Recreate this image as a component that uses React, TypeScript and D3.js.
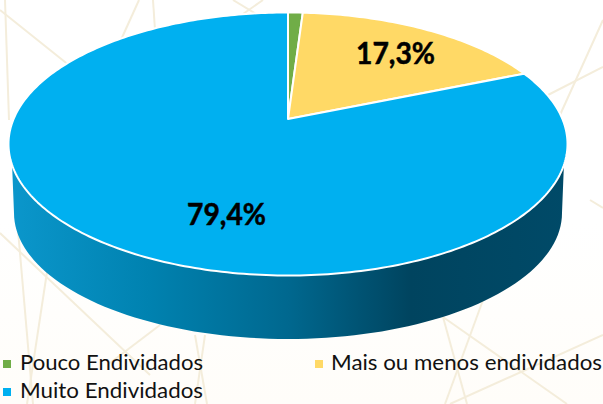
import React from "react";
import * as d3 from "d3";

const categories = ["Pouco Endividados", "Mais ou menos endividados", "Muito Endividados"];
const values = [1.0, 17.3, 79.4];
const colors = ["#70ad47", "#ffd966", "#00b0f0"];
const valueLabels = ["", "17,3%", "79,4%"];
const labelPositions: [number, number][] = [[0, 0], [395.5, 64], [226.5, 225]];
const legendPositions: [number, number, number][] = [[3, 370, 183], [314, 370, 271], [3, 398, 183]];
const backgroundLines: [number, number, number, number][] = [
  [0, 10, 70, 66], [5, 0, 9, 120], [139, 0, 120, 42], [153, 0, 155, 30],
  [233, 0, 256, 14], [263, 0, 243, 14], [603, 20, 560, 115], [603, 67, 546, 96],
  [0, 233, 150, 375], [15, 195, 33, 404], [47, 272, 27, 404], [160, 325, 110, 363],
  [195, 335, 207, 404], [205, 335, 195, 404], [443, 317, 467, 404], [483, 300, 445, 404],
  [443, 317, 567, 404], [603, 335, 450, 404], [590, 200, 603, 208],
];
const sideStops: [number, string][] = [
  [0, "#0b97cc"], [0.25, "#0082b0"], [0.5, "#00688f"], [0.72, "#00445f"], [1, "#004a68"],
];

const cx = 288, cy = 144, rx = 279.5, ry = 131.5;
const apexY = 119;
const rimY = 165, depthY = 213, rxBottom = 274, ryBottom = 126;

// Perspective: the apex sits above the ellipse centre, so true pie angles are warped
const k = (() => {
  const a = (cy - apexY) / ry;
  const p = (1 - Math.sqrt(1 - a * a)) / a;
  return (1 - p) / (1 + p);
})();
const warp = (t: number) => 2 * Math.atan(Math.tan(t / 2) * k);
const onRim = (t: number): [number, number] => {
  const w = warp(t);
  return [cx + rx * Math.sin(w), cy - ry * Math.cos(w)];
};

function slicePath(start: number, end: number) {
  const n = Math.max(4, Math.ceil((end - start) * 60));
  const p = d3.path();
  p.moveTo(cx, apexY);
  d3.range(n + 1).forEach((i) => {
    const [x, y] = onRim(start + ((end - start) * i) / n);
    p.lineTo(x, y);
  });
  p.closePath();
  return p.toString();
}

function sidePath() {
  const xScale = d3.scaleLinear().domain([-1, 1]).range([cx - rxBottom, cx + rxBottom]);
  const yScale = d3.scaleLinear().domain([0, 1]).range([depthY, depthY + ryBottom]);
  const topAt = Math.sqrt(1 - ((rimY - cy) / ry) ** 2) * rx;
  const pts: [number, number][] = [[cx - topAt, rimY]];
  d3.range(0, 181, 2).forEach((deg) => {
    const a = (deg * Math.PI) / 180;
    pts.push([xScale(-Math.cos(a)), yScale(Math.sin(a))]);
  });
  pts.push([cx + topAt, rimY]);
  pts.push([cx, cy]);
  return d3.line()(pts) + "Z";
}

export default function App() {
  const pie = d3.pie<number>().sort(null)(values);
  const font = "Lato, 'Open Sans', sans-serif";
  return (
    <svg width={603} height={404} style={{ position: "fixed", left: 0, top: 0, display: "block" }}>
      <defs>
        <linearGradient id="side" gradientUnits="userSpaceOnUse" x1={cx - rx} x2={cx + rx} y1={0} y2={0}>
          {sideStops.map(([o, c]) => <stop key={o} offset={o} stopColor={c} />)}
        </linearGradient>
        <linearGradient id="bg" x1={0} x2={0} y1={0} y2={1}>
          <stop offset={0} stopColor="#ffffff" />
          <stop offset={0.55} stopColor="#ffffff" />
          <stop offset={1} stopColor="#fffdf9" />
        </linearGradient>
      </defs>
      <rect width={603} height={404} fill="url(#bg)" />
      {backgroundLines.map(([x1, y1, x2, y2], i) => (
        <line key={i} x1={x1} y1={y1} x2={x2} y2={y2} stroke="#f4eddb" strokeWidth={2} />
      ))}
      <path d={sidePath()} fill="url(#side)" />
      {pie.map((d, i) => (
        <path key={i} d={slicePath(d.startAngle, d.endAngle)} fill={colors[i]} stroke="#ffffff" strokeWidth={2} strokeLinejoin="round" />
      ))}
      {valueLabels.map((t, i) => t && (
        <text key={i} x={labelPositions[i][0]} y={labelPositions[i][1]} textAnchor="middle" fontFamily={font}
          fontWeight={700} fontSize={30} textLength={79} lengthAdjust="spacingAndGlyphs" fill="#000" stroke="#000" strokeWidth={0.5}>{t}</text>
      ))}
      {categories.map((c, i) => {
        const [x, y, w] = legendPositions[i];
        return (
          <g key={c}>
            <rect x={x + (i === 1 ? 1 : 0)} y={y - 10} width={8} height={8} fill={colors[i]} />
            <text x={x + 17} y={y} fontFamily={font} fontSize={21} textLength={w} lengthAdjust="spacingAndGlyphs" fill="#111">{c}</text>
          </g>
        );
      })}
    </svg>
  );
}
